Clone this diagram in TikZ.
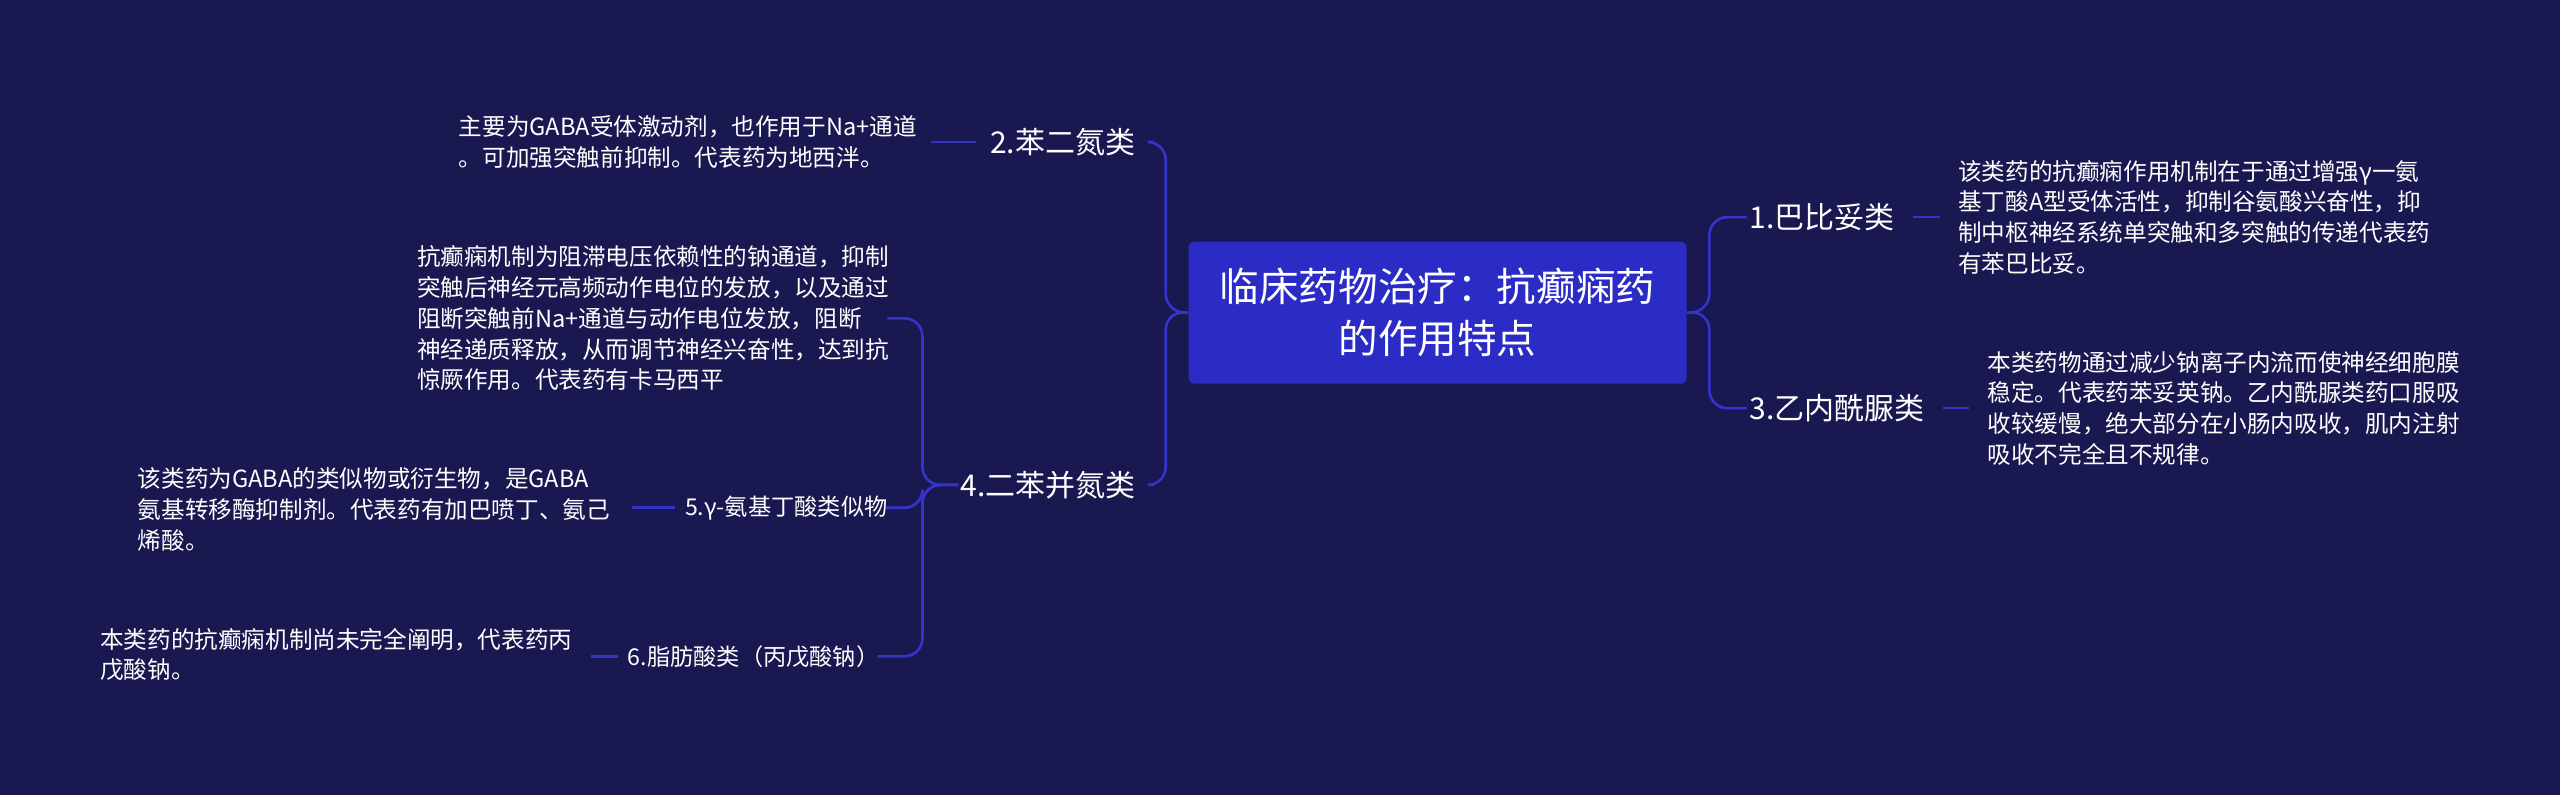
\documentclass[tikz,border=0pt]{standalone}
\usepackage{fontspec}
\setmainfont{Noto Sans CJK SC}
\begin{document}
\begin{tikzpicture}[x=0.8163pt,y=-0.8163pt,
  lk/.style={draw=linkc,line width=1.3pt,rounded corners=9pt},
  lab/.style={text=white,font=\fontsize{15}{18}\selectfont,inner sep=1pt},
  sub/.style={text=white,font=\fontsize{11.6}{14}\selectfont,inner sep=1pt},
  leaf/.style={text=white,font=\fontsize{11.8}{15.4}\selectfont,align=left,inner sep=1pt}]
\definecolor{bg}{HTML}{1A1850}
\definecolor{linkc}{HTML}{3434CC}
\definecolor{cbox}{HTML}{2B2BC6}
\fill[bg] (0,0) rectangle (1568,487);
\useasboundingbox (0,0) rectangle (1568,487);
\node[fill=cbox,rounded corners=3pt,text=white,align=center,
  font=\fontsize{19.8}{26}\selectfont,minimum width=249pt,minimum height=71pt] (c) at (880.5,191.5)
  {临床药物治疗：抗癫痫药\\的作用特点};
\node[lab,anchor=west] (b2) at (605,87) {2.苯二氮类};
\node[lab,anchor=west] (b4) at (587,297) {4.二苯并氮类};
\node[lab,anchor=west] (b1) at (1070,133) {1.巴比妥类};
\node[lab,anchor=west] (b3) at (1070,250) {3.乙内酰脲类};
\node[sub,anchor=east] (b5) at (545,311) {5.γ-氨基丁酸类似物};
\node[sub,anchor=east] (b6) at (540,402) {6.脂肪酸类（丙戊酸钠）};
\node[leaf,anchor=east] (l2) at (563,87) {主要为GABA受体激动剂，也作用于Na+通道\\。可加强突触前抑制。代表药为地西泮。};
\node[leaf,anchor=east] (l4) at (546,195) {抗癫痫机制为阻滞电压依赖性的钠通道，抑制\\突触后神经元高频动作电位的发放，以及通过\\阻断突触前Na+通道与动作电位发放，阻断\\神经递质释放，从而调节神经兴奋性，达到抗\\惊厥作用。代表药有卡马西平};
\node[leaf,anchor=east] (l5) at (375,312) {该类药为GABA的类似物或衍生物，是GABA\\氨基转移酶抑制剂。代表药有加巴喷丁、氨己\\烯酸。};
\node[leaf,anchor=east] (l6) at (352,401) {本类药的抗癫痫机制尚未完全阐明，代表药丙\\戊酸钠。};
\node[leaf,anchor=west] (l1) at (1198,133) {该类药的抗癫痫作用机制在于通过增强γ一氨\\基丁酸A型受体活性，抑制谷氨酸兴奋性，抑\\制中枢神经系统单突触和多突触的传递代表药\\有苯巴比妥。};
\node[leaf,anchor=west] (l3) at (1216,250) {本类药物通过减少钠离子内流而使神经细胞膜\\稳定。代表药苯妥英钠。乙内酰脲类药口服吸\\收较缓慢，绝大部分在小肠内吸收，肌内注射\\吸收不完全且不规律。};
\draw[lk] (c.west) -- (714,191) |- ([xshift=8]b2.east);
\draw[lk] (c.west) -- (714,191) |- ([xshift=8]b4.east);
\draw[lk] (c.east) -- (1047,191) |- (b1.west);
\draw[lk] (c.east) -- (1047,191) |- (b3.west);
\draw[lk] (b4.west) -- (565,297) |- ([xshift=-2]l4.east);
\draw[lk] (b4.west) -- (565,297) |- ([xshift=-2]b5.east);
\draw[lk] (b4.west) -- (565,297) |- ([xshift=-2]b6.east);
\draw[lk] ([xshift=-6]b2.west) -- ([xshift=6]b2.west -| l2.east);
\draw[lk] ([xshift=-4]b5.west) -- ([xshift=10]b5.west -| l5.east);
\draw[lk] ([xshift=-4]b6.west) -- ([xshift=8]b6.west -| l6.east);
\draw[lk] ([xshift=8]b1.east) -- ([xshift=-8]b1.east -| l1.west);
\draw[lk] ([xshift=8]b3.east) -- ([xshift=-8]b3.east -| l3.west);
\end{tikzpicture}
\end{document}
